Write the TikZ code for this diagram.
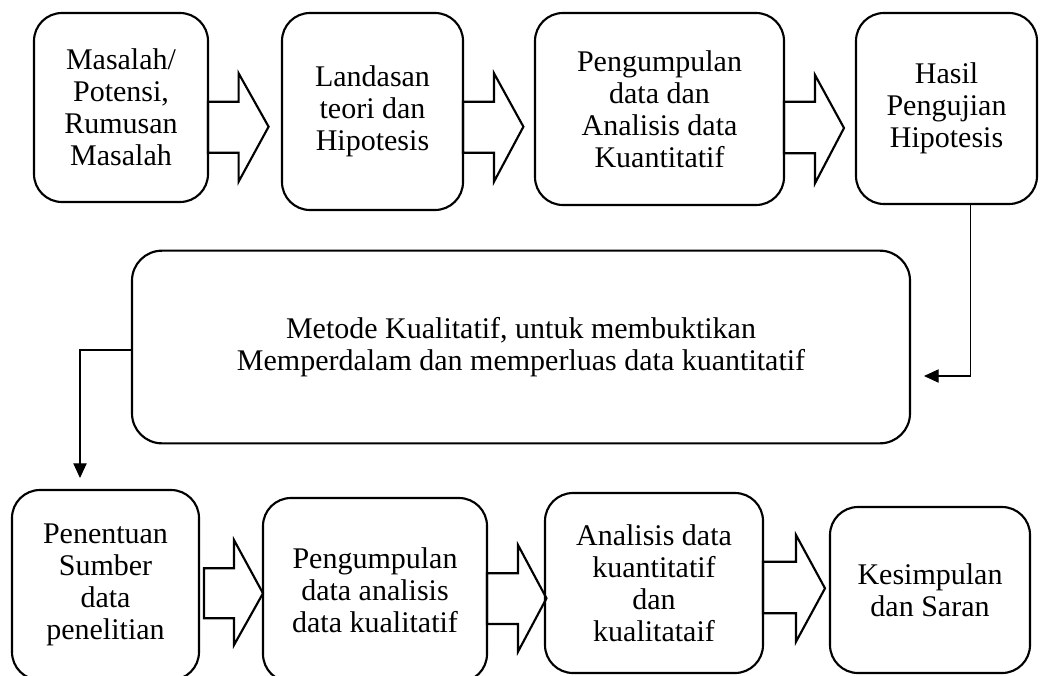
\documentclass[tikz,border=0pt]{standalone}
\usepackage{fontspec}
\setmainfont{Liberation Serif}
\usetikzlibrary{arrows.meta}
\newcommand\blkarrow[8]{\draw[blk] (#1,#4) -- (#2,#4) -- (#2,#6) -- (#3,#8) -- (#2,#7) -- (#2,#5) -- (#1,#5) -- cycle;}
\begin{document}
\begin{tikzpicture}[x=0.75pt,y=-0.75pt,
  box/.style={draw, line width=1.6pt, rounded corners=21pt, align=center, inner sep=0pt,
    font=\fontsize{22.5}{24}\selectfont},
  blk/.style={draw, line width=1.6pt, line join=miter},
  conn/.style={line width=0.8pt, -{Triangle[length=11pt,width=10pt]}}]
\useasboundingbox (0,0) rectangle (1041,675);
% top row
\node[box, minimum width=130.5pt, minimum height=141.75pt] (A1) at (121,107.5) {Masalah/\\Potensi,\\Rumusan\\Masalah};
\node[box, minimum width=135.75pt, minimum height=147.75pt] (A2) at (372.5,111.5) {Landasan\\teori dan\\Hipotesis};
\node[box, minimum width=186.75pt, minimum height=144pt] (A3) at (659.5,109) {Pengumpulan\\data dan\\Analisis data\\Kuantitatif};
\node[box, minimum width=135.75pt, minimum height=143.25pt] (A4) at (946.5,108.5) {Hasil\\Pengujian\\Hipotesis};
\blkarrow{208}{238.6}{268.6}{101.7}{152.7}{73.3}{181.7}{126.7}
\blkarrow{463}{494}{523.4}{101.7}{152.7}{73.3}{181.7}{126.7}
\blkarrow{784}{815}{844}{101.7}{153.3}{75}{183.3}{128}
% middle
\node[box, rounded corners=22.5pt, minimum width=583.5pt, minimum height=144.5pt] (M) at (521,347)
  {Metode Kualitatif, untuk membuktikan\\Memperdalam dan memperluas data kuantitatif};
% bottom row
\node[box, minimum width=140.25pt, minimum height=142.5pt] (B1) at (105.5,585) {Penentuan\\Sumber\\data\\penelitian};
\node[box, minimum width=168pt, minimum height=138pt] (B2) at (375,590) {Pengumpulan\\data analisis\\data kualitatif};
\node[box, minimum width=163.5pt, minimum height=135pt] (B3) at (654,583) {Analisis data\\kuantitatif\\dan\\kualitataif};
\node[box, minimum width=150pt, minimum height=124.5pt] (B4) at (930,590) {Kesimpulan\\dan Saran};
\blkarrow{204}{234}{263}{568.3}{618.3}{540}{645}{593.3}
\blkarrow{487}{518}{546.5}{573.3}{624}{545}{651.7}{598.3}
\blkarrow{763}{796}{825}{561.7}{613.3}{535}{641.7}{588.3}
% connectors
\coordinate (rx) at (970.5,0);
\coordinate (rin) at (924,376);
\draw[conn] (A4.south -| rx) |- (rin);
\coordinate (lout) at (80,478);
\draw[conn] ([yshift=-2.25pt]M.west) -| (lout);
\end{tikzpicture}
\end{document}
